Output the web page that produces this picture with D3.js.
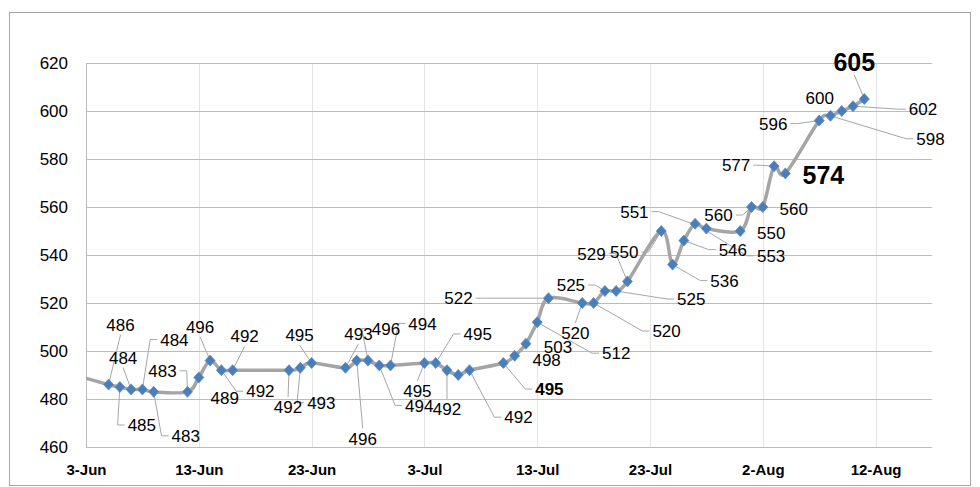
<!DOCTYPE html>
<html><head><meta charset="utf-8">
<script src="https://cdn.jsdelivr.net/npm/d3@7"></script>
<style>body{margin:0;background:#fff}svg{display:block}</style>
</head><body>
<svg id="chart" width="980" height="487"></svg>
<script>
// ---- data ----
const dates = ["2021-06-02","2021-06-05","2021-06-06","2021-06-07","2021-06-08","2021-06-09","2021-06-12","2021-06-13","2021-06-14","2021-06-15","2021-06-16","2021-06-21","2021-06-22","2021-06-23","2021-06-26","2021-06-27","2021-06-28","2021-06-29","2021-06-30","2021-07-03","2021-07-04","2021-07-05","2021-07-06","2021-07-07","2021-07-10","2021-07-11","2021-07-12","2021-07-13","2021-07-14","2021-07-17","2021-07-18","2021-07-19","2021-07-20","2021-07-21","2021-07-24","2021-07-25","2021-07-26","2021-07-27","2021-07-28","2021-07-31","2021-08-01","2021-08-02","2021-08-03","2021-08-04","2021-08-07","2021-08-08","2021-08-09","2021-08-10","2021-08-11"];
const prices = [490,486,485,484,484,483,483,489,496,492,492,492,493,495,493,496,496,494,494,495,495,492,490,492,495,498,503,512,522,520,520,525,525,529,550,536,546,553,551,550,560,560,577,574,596,598,600,602,605];
// label emphasis: "" none, "n" normal, "b" bold, "B" big bold
const labelKind = ["","n","n","n","n","n","n","n","n","n","n","n","n","n","n","n","n","n","n","n","n","n","","n","b","n","n","n","n","n","n","n","n","n","n","n","n","n","n","n","n","n","n","B","n","n","n","n","B"];
const yTicks = [460,480,500,520,540,560,580,600,620];
const xTickDates = ["2021-06-03","2021-06-13","2021-06-23","2021-07-03","2021-07-13","2021-07-23","2021-08-02","2021-08-12"];
const xDomain = ["2021-06-03","2021-08-17"];

// ---- label layout (offsets of label centre from its point, px) ----
const labelDx = [null,12,22,-8,32,32,-25,26,-10,39,12,-1,21,-12,13,6,18,40,32,-7,42,0,null,49,46,32,32,79,-90,-7,73,-34,75,-36,-37,52,49,76,-72,31,-33,31,-38,38,-46,100,-22,70,-10];
const labelDy = [null,-60,38,-32,-50,44,-21,20,-34,21,-34,37,35,-28,-34,78,-32,40,-42,28,-29,39,null,47,26,4,3,31,0,30,28,-6,8,-28,21,16,9,32,-17,2,8,2,-1,2,3,23,-13,3,-37];
const leader = [0,1,1,1,1,1,1,0,1,1,1,1,1,1,1,1,1,1,1,1,1,1,0,1,1,0,0,1,1,1,1,1,1,1,1,1,1,1,1,0,1,0,1,0,1,1,0,1,1];

const parse = d3.timeParse("%Y-%m-%d");
const pts = dates.map((d,i)=>({date:parse(d), v:prices[i], i}));

const svg = d3.select("#chart");
const L=86, R=932, T=63, B=447;
const font = "'Liberation Sans', Arial, sans-serif";

const x = d3.scaleTime().domain(xDomain.map(parse)).range([L,R]);
const y = d3.scaleLinear().domain([460,620]).range([B,T]);

// outer frame
svg.append("rect").attr("x",9.5).attr("y",12.5).attr("width",961).attr("height",473)
  .attr("fill","#fff").attr("stroke","#a6a6a6").attr("stroke-width",1);

// vertical gridlines
svg.append("g").selectAll("line").data(xTickDates.slice(1).map(parse)).join("line")
  .attr("x1",d=>Math.round(x(d))+0.5).attr("x2",d=>Math.round(x(d))+0.5)
  .attr("y1",T).attr("y2",B).attr("stroke","#e4e4e4").attr("stroke-width",1);

// horizontal gridlines
svg.append("g").selectAll("line").data(yTicks).join("line")
  .attr("x1",L).attr("x2",R)
  .attr("y1",d=>Math.round(y(d))+0.5).attr("y2",d=>Math.round(y(d))+0.5)
  .attr("stroke","#bcbcbc").attr("stroke-width",1);

// left axis line
svg.append("line").attr("x1",L+0.5).attr("x2",L+0.5).attr("y1",T).attr("y2",B)
  .attr("stroke","#bcbcbc");

// y axis labels
const yAxis = d3.axisLeft(y).tickValues(yTicks).tickSize(0).tickPadding(18);
const gy = svg.append("g").attr("transform",`translate(${L},0)`).call(yAxis);
gy.select(".domain").remove();
gy.selectAll("text").attr("font-family",font).attr("font-size",17).attr("fill","#000");

// x axis labels
const xAxis = d3.axisBottom(x).tickValues(xTickDates.map(parse)).tickFormat(d3.timeFormat("%-d-%b")).tickSize(0).tickPadding(17);
const gx = svg.append("g").attr("transform",`translate(0,${B})`).call(xAxis);
gx.select(".domain").remove();
gx.selectAll("text").attr("font-family",font).attr("font-size",15).attr("font-weight","bold").attr("fill","#000");

// clip
svg.append("clipPath").attr("id","plotclip").append("rect")
  .attr("x",L).attr("y",T-20).attr("width",R-L).attr("height",B-T+20);

// line
const line = d3.line().x(d=>x(d.date)).y(d=>y(d.v)).curve(d3.curveCardinal.tension(0));
svg.append("path").datum(pts).attr("clip-path","url(#plotclip)")
  .attr("d",line).attr("fill","none").attr("stroke","#a5a5a5").attr("stroke-width",3.5)
  .attr("stroke-linejoin","round");

// labels + leaders
const labG = svg.append("g");
const leadG = svg.insert("g", () => labG.node());
pts.forEach((p,i)=>{
  const k = labelKind[i];
  if(!k) return;
  const px = x(p.date), py = y(p.v);
  const fs = k==="B"?25:17;
  const cx = px + labelDx[i], cy = py + labelDy[i];
  const t = labG.append("text").attr("x",cx).attr("y",cy + fs*0.36)
    .attr("text-anchor","middle").attr("font-family",font).attr("font-size",fs)
    .attr("font-weight", k==="n"?"normal":"bold").attr("fill","#000").text(p.v);
  if(!leader[i]) return;
  const w = t.node().getComputedTextLength();
  const hw = w/2 + 3, hh = fs*0.36 + 4;
  let path;
  if(px >= cx-hw && px <= cx+hw){
    const sy = py < cy ? cy-hh : cy+hh;
    path = [[cx,sy],[px,py]];
  } else {
    const sx = px > cx ? cx+hw : cx-hw;
    const stub = px > cx ? 7 : -7;
    path = [[sx,cy],[sx+stub,cy],[px,py]];
  }
  leadG.append("path").attr("d",d3.line()(path)).attr("fill","none")
    .attr("stroke","#a6a6a6").attr("stroke-width",1);
});

// markers
svg.append("g").attr("clip-path","url(#plotclip)").selectAll("path").data(pts).join("path")
  .attr("transform",d=>`translate(${x(d.date)},${y(d.v)})`)
  .attr("d","M0,-5.5L5,0L0,5.5L-5,0Z")
  .attr("fill","#4a7ebb").attr("stroke","#5b8ac6").attr("stroke-width",0.8);
</script>
</body></html>
